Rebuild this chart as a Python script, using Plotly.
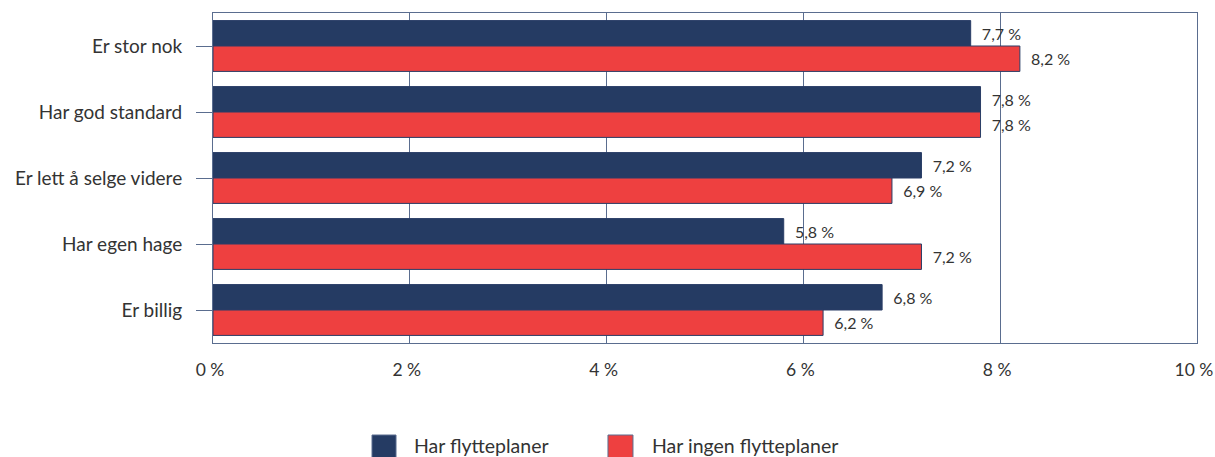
import plotly.graph_objects as go

categories = ["Er stor nok", "Har god standard", "Er lett å selge videre", "Har egen hage", "Er billig"]
har_flytteplaner = [7.7, 7.8, 7.2, 5.8, 6.8]
ingen_flytteplaner = [8.2, 7.8, 6.9, 7.2, 6.2]
series_names = ["Har flytteplaner", "Har ingen flytteplaner"]
tick_vals = [0, 2, 4, 6, 8, 10]
tick_text = ["0 %", "2 %", "4 %", "6 %", "8 %", "10 %"]

NAVY = "#253b63"
RED = "#ee4040"
AXIS = "#5a6d8f"
TEXT = "#333333"
FONT = "Lato, sans-serif"


def pct(v):
    # small gap between bar end and label, like the reference
    return "\u00a0\u00a0" + f"{v:.1f} %".replace(".", ",")


fig = go.Figure()
for name, vals, col in [(series_names[0], har_flytteplaner, NAVY),
                        (series_names[1], ingen_flytteplaner, RED)]:
    fig.add_trace(go.Bar(
        y=categories, x=vals, orientation="h", name=name,
        marker=dict(color=col, line=dict(color="#2a3d66", width=1)),
        text=[pct(v) for v in vals], textposition="outside",
        textfont=dict(size=16, color=TEXT, family=FONT),
        cliponaxis=False, showlegend=False,
    ))

fig.update_layout(
    width=1215, height=457,
    margin=dict(l=213, r=18, t=13, b=114),
    barmode="group", bargap=0.23, bargroupgap=0,
    plot_bgcolor="white", paper_bgcolor="white",
    font=dict(family=FONT, size=19, color=TEXT),
    showlegend=False,
)
fig.update_xaxes(
    range=[0, 10], tickvals=tick_vals, ticktext=tick_text,
    showgrid=True, gridcolor=AXIS, gridwidth=1,
    showline=True, linecolor=AXIS, linewidth=1, mirror=True,
    zeroline=False, ticks="", ticklabelstandoff=11, automargin=False,
    ticklabeloverflow="allow", ticklabelshift=-3,
    tickfont=dict(size=17.5, color=TEXT),
)
fig.update_yaxes(
    autorange="reversed", automargin=False,
    showline=True, linecolor=AXIS, linewidth=1, mirror=True,
    ticks="outside", ticklen=16, tickcolor=AXIS, tickwidth=1,
    ticklabelstandoff=10, tickfont=dict(size=19, color=TEXT),
)

# legend drawn by hand so the swatches can be as large as in the reference
legend_items = [(series_names[0], NAVY, 0.1616, 0.186, 0.2022),
                (series_names[1], RED, 0.4014, 0.4268, 0.4441)]
for name, col, x0, x1, xt in legend_items:
    fig.add_shape(type="rect", xref="paper", yref="paper",
                  x0=x0, x1=x1, y0=-0.2788, y1=-0.35,
                  fillcolor=col, line=dict(color="#5a6d8f", width=1))
    fig.add_annotation(xref="paper", yref="paper", x=xt, y=-0.312,
                       xanchor="left", yanchor="middle", showarrow=False,
                       text=name, font=dict(size=19.5, color=TEXT, family=FONT))

# page body has a default 8px margin; drop it so the chart sits at 0,0
fig.write_html("out.html", config={"displayModeBar": False},
               post_script="document.body.style.margin='0';")
